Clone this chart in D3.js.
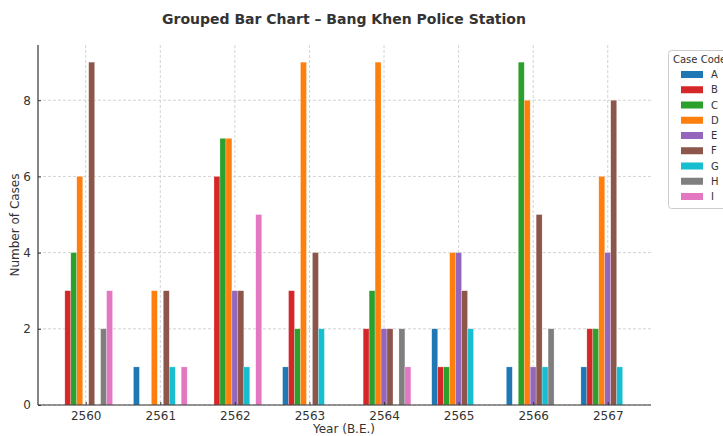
<!DOCTYPE html>
<html><head><meta charset="utf-8">
<script src="https://cdn.jsdelivr.net/npm/d3@7"></script>
<style>body{margin:0;background:#fff}svg{display:block;font-family:"DejaVu Sans",sans-serif}</style>
</head><body><svg id="c" width="723" height="436"></svg>
<script>
const years = ["2560","2561","2562","2563","2564","2565","2566","2567"];
const codes = ["A","B","C","D","E","F","G","H","I"];
const colors = ["#1f77b4","#d62728","#2ca02c","#ff7f0e","#9467bd","#8c564b","#17becf","#7f7f7f","#e377c2"];
const A = [0,1,0,1,0,2,1,1];
const B = [3,0,6,3,2,1,0,2];
const C = [4,0,7,2,3,1,9,2];
const D = [6,3,7,9,9,4,8,6];
const E = [0,0,3,0,2,4,1,4];
const F = [9,3,3,4,2,3,5,8];
const G = [0,1,1,2,0,2,1,1];
const H = [2,0,0,0,2,0,2,0];
const I = [3,1,5,0,1,0,0,0];
const series = [A,B,C,D,E,F,G,H,I];
const yTicks = [0,2,4,6,8];

const svg = d3.select("#c");
const x = d3.scaleLinear().domain([-0.64, 7.58]).range([38, 651]);
const y = d3.scaleLinear().domain([0, 9.45]).range([405, 45]);
const bw = 0.08;

// grid
const g = svg.append("g");
g.selectAll(".gy").data(yTicks).join("line")
  .attr("x1",38).attr("x2",651).attr("y1",d=>y(d)).attr("y2",d=>y(d))
  .attr("stroke","#c8c8c8").attr("stroke-width",0.8).attr("stroke-dasharray","3,2");
g.selectAll(".gx").data(years).join("line")
  .attr("x1",(d,i)=>x(i)).attr("x2",(d,i)=>x(i)).attr("y1",45).attr("y2",405)
  .attr("stroke","#c8c8c8").attr("stroke-width",0.8).attr("stroke-dasharray","3,2");

// bars
series.forEach((vals, si) => {
  svg.append("g").selectAll("rect").data(vals).join("rect")
    .attr("x",(v,i)=>x(i + (si-4)*bw - bw/2))
    .attr("width", x(bw) - x(0))
    .attr("y", v=>y(v))
    .attr("height", v=>y(0)-y(v))
    .attr("fill", colors[si])
    .attr("stroke","#fff").attr("stroke-opacity",0.5).attr("stroke-width",0.5);
});

// axes
const xa = svg.append("g").attr("transform","translate(0,405)")
  .call(d3.axisBottom(x).tickValues(d3.range(years.length)).tickFormat(i=>years[i]).tickSize(-3).tickPadding(6));
const ya = svg.append("g").attr("transform","translate(38,0)")
  .call(d3.axisLeft(y).tickValues(yTicks).tickSize(-3).tickPadding(7));
[xa,ya].forEach(a=>{
  a.select(".domain").attr("stroke","#333").attr("stroke-width",1.2);
  a.selectAll(".tick line").attr("stroke","#333");
  a.selectAll(".tick text").attr("fill","#333").attr("font-size",12).attr("font-family","DejaVu Sans");
});
xa.select(".domain").attr("d","M38,0H651");
ya.select(".domain").attr("d","M0,45V405");

// labels
svg.append("text").attr("x",344).attr("y",24).attr("text-anchor","middle")
  .attr("font-size",14).attr("font-weight","bold").attr("fill","#333")
  .text("Grouped Bar Chart – Bang Khen Police Station");
svg.append("text").attr("x",344).attr("y",433).attr("text-anchor","middle")
  .attr("font-size",12).attr("fill","#333").text("Year (B.E.)");
svg.append("text").attr("transform","translate(19,225) rotate(-90)").attr("text-anchor","middle")
  .attr("font-size",12).attr("fill","#333").text("Number of Cases");

// legend
const lg = svg.append("g");
lg.append("rect").attr("x",668.5).attr("y",50.5).attr("width",70).attr("height",158)
  .attr("rx",3).attr("fill","#fff").attr("fill-opacity",0.8).attr("stroke","#ccc");
lg.append("text").attr("x",673).attr("y",63).attr("font-size",10).attr("fill","#333").text("Case Code");
codes.forEach((c,i)=>{
  const yy = 74 + i*15.25;
  lg.append("rect").attr("x",681).attr("y",yy-3).attr("width",22).attr("height",7).attr("fill",colors[i]);
  lg.append("text").attr("x",711).attr("y",yy+4).attr("font-size",10).attr("fill","#333").text(c);
});
</script></body></html>
